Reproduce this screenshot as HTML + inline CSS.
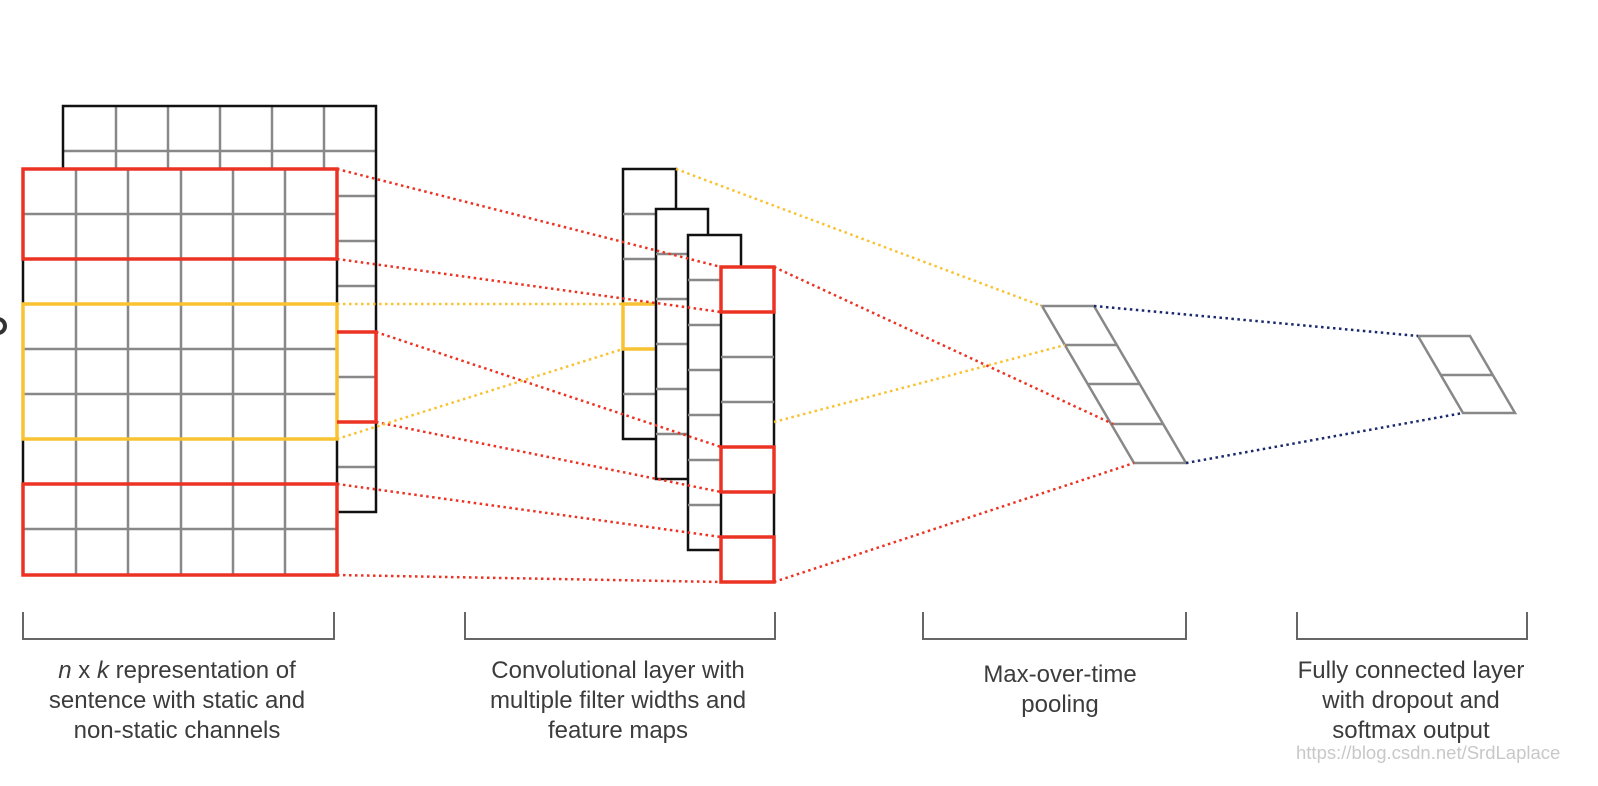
<!DOCTYPE html>
<html><head><meta charset="utf-8"><style>
html,body{margin:0;padding:0;background:#fff;width:1598px;height:786px;overflow:hidden}
svg text{font-family:"Liberation Sans",sans-serif;fill:#3c3c3c;font-size:24px}
</style></head><body>
<svg width="1598" height="786" viewBox="0 0 1598 786" xmlns="http://www.w3.org/2000/svg">
<circle cx="-2" cy="326" r="7" fill="none" stroke="#333" stroke-width="4"/>
<g stroke="#888" stroke-width="2.5">
<line x1="116" y1="106" x2="116" y2="169"/><line x1="168" y1="106" x2="168" y2="169"/><line x1="220" y1="106" x2="220" y2="169"/><line x1="272" y1="106" x2="272" y2="169"/><line x1="324" y1="106" x2="324" y2="169"/>
<line x1="63" y1="151" x2="376" y2="151"/>
<line x1="337" y1="196" x2="376" y2="196"/><line x1="337" y1="241" x2="376" y2="241"/><line x1="337" y1="286" x2="376" y2="286"/><line x1="337" y1="377" x2="376" y2="377"/><line x1="337" y1="467" x2="376" y2="467"/>
</g>
<path d="M63 169V106H376V512H337" fill="none" stroke="#111" stroke-width="2.5"/>
<g stroke="#888" stroke-width="2.5">
<line x1="76" y1="169" x2="76" y2="575"/><line x1="128" y1="169" x2="128" y2="575"/><line x1="181" y1="169" x2="181" y2="575"/><line x1="233" y1="169" x2="233" y2="575"/><line x1="285" y1="169" x2="285" y2="575"/>
<line x1="23" y1="214" x2="337" y2="214"/><line x1="23" y1="349" x2="337" y2="349"/><line x1="23" y1="394" x2="337" y2="394"/><line x1="23" y1="529" x2="337" y2="529"/>
</g>
<g stroke="#111" stroke-width="2.5"><line x1="23" y1="259" x2="23" y2="484"/><line x1="337" y1="259" x2="337" y2="484"/></g>
<line x1="23" y1="259" x2="337" y2="259" stroke="#888" stroke-width="2.5"/>
<line x1="23" y1="484" x2="337" y2="484" stroke="#888" stroke-width="2.5"/>
<rect x="23" y="304" width="314" height="135" fill="none" stroke="#f8c233" stroke-width="3.5"/>
<g fill="none" stroke="#ec3323" stroke-width="3.5">
<rect x="23" y="169" width="314" height="90"/>
<rect x="23" y="484" width="314" height="91"/>
<path d="M337 332H376V422H337"/>
</g>
<rect x="623" y="169" width="53" height="270" fill="#fff" stroke="#111" stroke-width="2.5"/>
<g stroke="#888" stroke-width="2.5"><line x1="623" y1="214" x2="656" y2="214"/><line x1="623" y1="259" x2="656" y2="259"/><line x1="623" y1="394" x2="656" y2="394"/></g>
<path d="M656 304H623V349H656" fill="none" stroke="#f8c233" stroke-width="3.5"/>
<rect x="656" y="209" width="52" height="270" fill="#fff" stroke="#111" stroke-width="2.5"/>
<g stroke="#888" stroke-width="2.5"><line x1="656" y1="254" x2="688" y2="254"/><line x1="656" y1="299" x2="688" y2="299"/><line x1="656" y1="344" x2="688" y2="344"/><line x1="656" y1="389" x2="688" y2="389"/><line x1="656" y1="434" x2="688" y2="434"/></g>
<rect x="688" y="235" width="53" height="315" fill="#fff" stroke="#111" stroke-width="2.5"/>
<g stroke="#888" stroke-width="2.5"><line x1="688" y1="280" x2="721" y2="280"/><line x1="688" y1="325" x2="721" y2="325"/><line x1="688" y1="370" x2="721" y2="370"/><line x1="688" y1="415" x2="721" y2="415"/><line x1="688" y1="460" x2="721" y2="460"/><line x1="688" y1="505" x2="721" y2="505"/></g>
<rect x="721" y="267" width="53" height="315" fill="#fff" stroke="#111" stroke-width="2.5"/>
<g stroke="#888" stroke-width="2.5"><line x1="721" y1="357" x2="774" y2="357"/><line x1="721" y1="402" x2="774" y2="402"/></g>
<g fill="none" stroke="#ec3323" stroke-width="3.5">
<rect x="721" y="267" width="53" height="45"/><rect x="721" y="447" width="53" height="45"/><rect x="721" y="537" width="53" height="45"/>
</g>
<g fill="none" stroke="#888" stroke-width="2.5">
<path d="M1042 306H1094L1186 463H1134Z"/>
<line x1="1065" y1="345" x2="1117" y2="345"/><line x1="1088" y1="384" x2="1140" y2="384"/><line x1="1111" y1="424" x2="1163" y2="424"/>
<path d="M1418 336H1470L1515 413H1463Z"/>
<line x1="1440" y1="375" x2="1492" y2="375"/>
</g>
<g fill="none" stroke-width="2.5" stroke-dasharray="2.5 3.5">
<g stroke="#ec3323">
<line x1="337" y1="169" x2="721" y2="267"/><line x1="337" y1="259" x2="721" y2="312"/>
<line x1="376" y1="332" x2="721" y2="447"/><line x1="376" y1="422" x2="721" y2="492"/>
<line x1="337" y1="484" x2="721" y2="537"/><line x1="337" y1="575" x2="721" y2="582"/>
<line x1="774" y1="267" x2="1113" y2="424"/><line x1="774" y1="582" x2="1134" y2="463"/>
</g>
<g stroke="#f8c233">
<line x1="337" y1="304" x2="623" y2="304"/><line x1="337" y1="439" x2="623" y2="349"/>
<line x1="676" y1="169" x2="1042" y2="306"/><line x1="774" y1="422" x2="1065" y2="345"/>
</g>
<g stroke="#1a2a6c">
<line x1="1094" y1="306" x2="1418" y2="336"/><line x1="1186" y1="463" x2="1463" y2="413"/>
</g>
</g>
<g fill="none" stroke="#666" stroke-width="2">
<path d="M23 612V639H334V612"/><path d="M465 612V639H775V612"/><path d="M923 612V639H1186V612"/><path d="M1297 612V639H1527V612"/>
</g>
<g text-anchor="middle">
<text x="177" y="678"><tspan font-style="italic">n</tspan> x <tspan font-style="italic">k</tspan> representation of</text>
<text x="177" y="708">sentence with static and</text>
<text x="177" y="738">non-static channels</text>
<text x="618" y="678">Convolutional layer with</text>
<text x="618" y="708">multiple filter widths and</text>
<text x="618" y="738">feature maps</text>
<text x="1060" y="682">Max-over-time</text>
<text x="1060" y="712">pooling</text>
<text x="1411" y="678">Fully connected layer</text>
<text x="1411" y="708">with dropout and</text>
<text x="1411" y="738">softmax output</text>
</g>
<text x="1296" y="759" style="font-size:18.5px;fill:#c8c8c8">https://blog.csdn.net/SrdLaplace</text>
</svg>
</body></html>
